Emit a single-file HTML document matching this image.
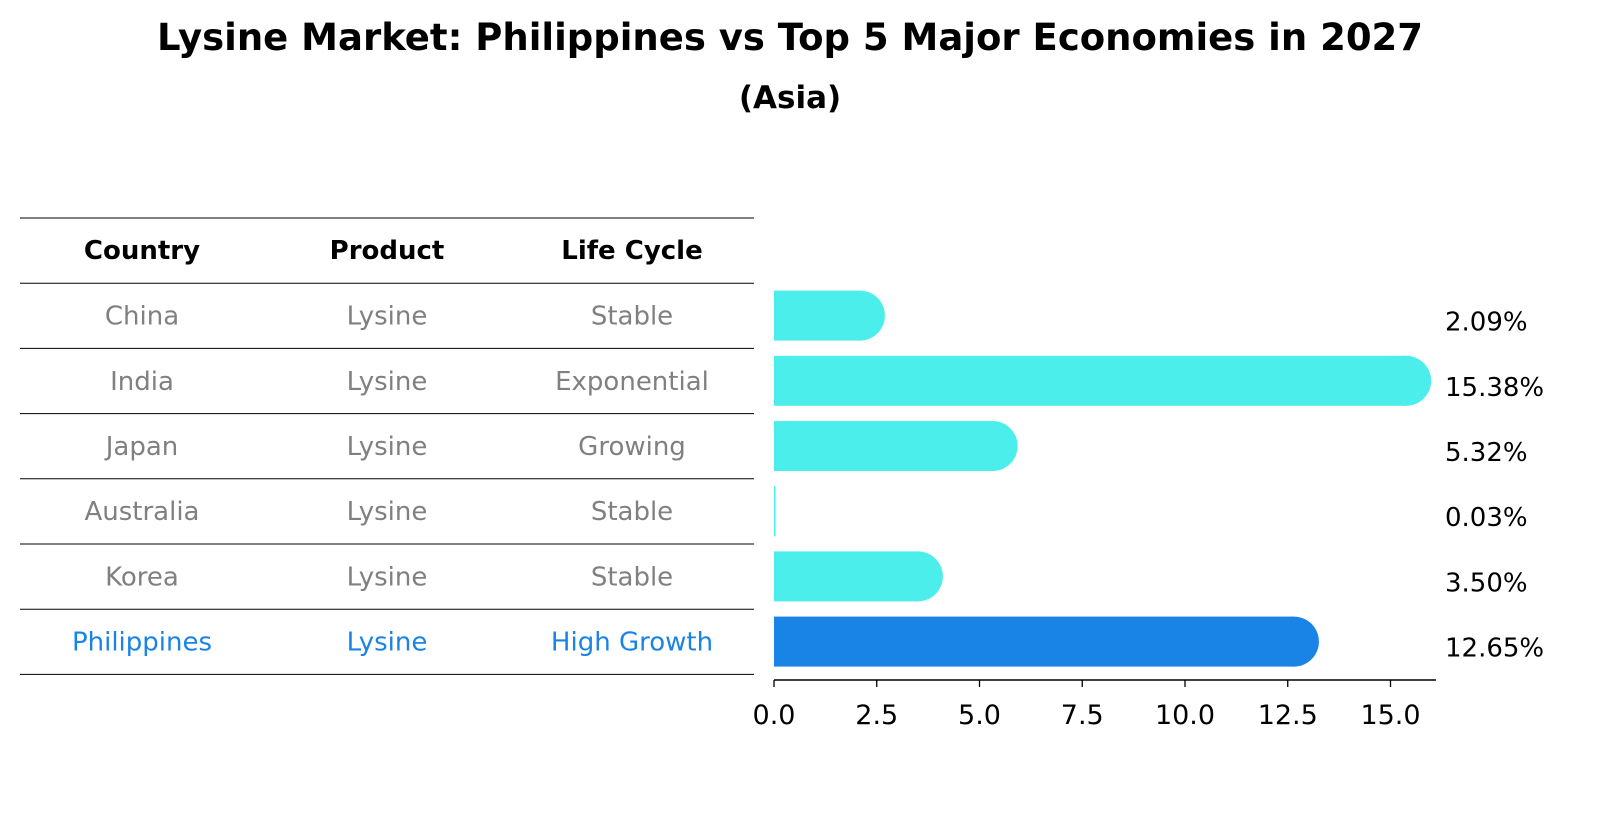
<!DOCTYPE html>
<html><head><meta charset="utf-8"><style>
body{margin:0;background:#fff;font-family:"Liberation Sans","DejaVu Sans",sans-serif;}
svg text{font-family:"DejaVu Sans","Liberation Sans",sans-serif;}
</style></head><body>
<svg width="1604" height="823" viewBox="0 0 1604 823">
<text x="790" y="50" text-anchor="middle" font-size="37" font-weight="bold">Lysine Market: Philippines vs Top 5 Major Economies in 2027</text>
<text x="790" y="108" text-anchor="middle" font-size="31" font-weight="bold">(Asia)</text>
<g id="table"></g>
<g id="bars"></g>
</svg>
<script>
const countries=["China","India","Japan","Australia","Korea","Philippines"];
const products=["Lysine","Lysine","Lysine","Lysine","Lysine","Lysine"];
const lifeCycles=["Stable","Exponential","Growing","Stable","Stable","High Growth"];
const values=[2.09,15.38,5.32,0.03,3.50,12.65];
const valueLabels=["2.09%","15.38%","5.32%","0.03%","3.50%","12.65%"];
const xTicks=[0,2.5,5,7.5,10,12.5,15];
const xTickLabels=["0.0","2.5","5.0","7.5","10.0","12.5","15.0"];

const NS="http://www.w3.org/2000/svg";
function mk(tag,attrs,parent,txt){const e=document.createElementNS(NS,tag);for(const k in attrs)e.setAttribute(k,attrs[k]);if(txt!==undefined)e.textContent=txt;parent.appendChild(e);return e;}
const x0=774,pxPerUnit=41.1;
const xs=v=>x0+v*pxPerUnit;
const rowTop=283,rowH=65.2;
const yc=i=>rowTop+rowH*(i+0.5);
const table=document.getElementById('table');
const colX=[142,387,632];
const heads=["Country","Product","Life Cycle"];
heads.forEach((h,j)=>{const t=mk('text',{x:colX[j],y:259,'text-anchor':'middle','font-size':26,'font-weight':'bold'},table,h);

});
for(let k=0;k<=countries.length+1;k++){const y=218+rowH*k;
const l=mk('line',{x1:20,x2:754,y1:y,y2:y,stroke:'#000','stroke-width':1},table);

}
countries.forEach((c,i)=>{const col=i===countries.length-1?'#1a84e6':'#808080';
[c,products[i],lifeCycles[i]].forEach((s,j)=>{const t=mk('text',{x:colX[j],y:yc(i)+9,'text-anchor':'middle','font-size':26,fill:col},table,s);

});});
const bars=document.getElementById('bars');
const bh=50;
values.forEach((v,i)=>{const col=i===values.length-1?'#1a84e6':'#4beeea';
const w=xs(v)-x0;const y=yc(i)-bh/2;
const g=mk('g',{},bars);


if(w>bh/2){mk('rect',{x:x0,y:y,width:w,height:bh,fill:col},g);mk('circle',{cx:x0+w,cy:yc(i),r:bh/2,fill:col},g);}
else{mk('rect',{x:x0,y:y,width:Math.max(w,1.5),height:bh,fill:col},g);}
const t=mk('text',{x:1445,y:yc(i)+15,'font-size':26},bars,valueLabels[i]);

});
const ax=mk('line',{x1:x0,x2:1436,y1:680,y2:680,stroke:'#000','stroke-width':1.5},bars);


xTicks.forEach((v,i)=>{mk('line',{x1:xs(v),x2:xs(v),y1:680,y2:687,stroke:'#000','stroke-width':1.3},bars);
const t=mk('text',{x:xs(v),y:724,'text-anchor':'middle','font-size':27},bars,xTickLabels[i]);

});
</script>
</body></html>
